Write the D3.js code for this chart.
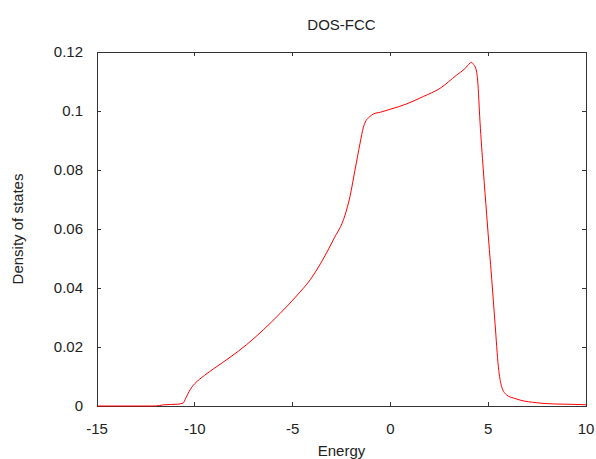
<!DOCTYPE html>
<html>
<head>
<meta charset="utf-8">
<script src="https://cdn.jsdelivr.net/npm/d3@7"></script>
<style>
  body { margin: 0; background: #fff; }
  text { font-family: "Liberation Sans", Arial, sans-serif; fill: #222; }
</style>
</head>
<body>
<div id="chart"></div>
<script>
// energy grid (eV) and density of states
const energy = [-15, -12, -11.6, -10.9, -10.6, -10.45, -10.3, -10.15, -10.0, -9.75, -9.5, -9.0, -8.2, -7.35, -6.5,
  -5.65, -4.8, -4.1, -3.77, -2.92, -2.32, -2.07, -1.81, -1.55, -1.38, -1.25, -1.1, -0.87, -0.5,
  0, 0.83, 1.68, 2.54, 3.39, 3.8, 4.07, 4.15, 4.25, 4.36, 4.46, 4.58, 4.75, 4.92, 5.06, 5.18,
  5.35, 5.52, 5.69, 5.95, 6.3, 6.63, 7.48, 8.33, 9.0, 9.69, 10]
const dos = [0, 0, 0.0004, 0.0006, 0.001, 0.0028, 0.0048, 0.0064, 0.0076, 0.0091, 0.0104, 0.0128, 0.0165, 0.0208, 0.0258,
  0.0313, 0.0373, 0.0428, 0.0461, 0.0563, 0.0647, 0.0709, 0.080, 0.0891, 0.0945, 0.0967, 0.0978, 0.099, 0.0996,
  0.1006, 0.1024, 0.1049, 0.1077, 0.1122, 0.1143, 0.1162, 0.1165, 0.1158, 0.1145, 0.1105, 0.0964, 0.080, 0.065, 0.053, 0.043,
  0.028, 0.0133, 0.0065, 0.0037, 0.0027, 0.002, 0.0011, 0.0007, 0.0006, 0.0005, 0.0004]

const xTicks = [-15, -10, -5, 0, 5, 10]
const yTicks = [0, 0.02, 0.04, 0.06, 0.08, 0.1, 0.12]
const title = 'DOS-FCC'
const xLabel = 'Energy'
const yLabel = 'Density of states'

const W = 596, H = 459
const margin = { top: 52, right: 10, bottom: 53, left: 97 }
const width = W - margin.left - margin.right
const height = H - margin.top - margin.bottom
const fontSize = 15

const svg = d3.select('#chart').append('svg')
  .attr('width', W)
  .attr('height', H)

const chart = svg.append('g')
  .attr('transform', `translate(${margin.left}, ${margin.top})`)

const x = d3.scaleLinear().domain([-15, 10]).range([0, width])
const y = d3.scaleLinear().domain([0, 0.12]).range([height, 0])

const tick = 4
const axisColor = '#333'

// frame
chart.append('rect')
  .attr('width', width).attr('height', height)
  .attr('fill', 'none').attr('stroke', axisColor).attr('stroke-width', 1)
  .attr('shape-rendering', 'crispEdges')

// ticks on all four sides, pointing inward
xTicks.forEach(t => {
  chart.append('line').attr('x1', x(t)).attr('x2', x(t)).attr('y1', height).attr('y2', height - tick)
    .attr('stroke', axisColor).attr('shape-rendering', 'crispEdges')
  chart.append('line').attr('x1', x(t)).attr('x2', x(t)).attr('y1', 0).attr('y2', tick)
    .attr('stroke', axisColor).attr('shape-rendering', 'crispEdges')
  chart.append('text')
    .attr('x', x(t)).attr('y', height + 28)
    .attr('text-anchor', 'middle')
    .attr('font-size', fontSize)
    .text(String(t))
})
yTicks.forEach(t => {
  chart.append('line').attr('x1', 0).attr('x2', tick).attr('y1', y(t)).attr('y2', y(t))
    .attr('stroke', axisColor).attr('shape-rendering', 'crispEdges')
  chart.append('line').attr('x1', width).attr('x2', width - tick).attr('y1', y(t)).attr('y2', y(t))
    .attr('stroke', axisColor).attr('shape-rendering', 'crispEdges')
  chart.append('text')
    .attr('x', -14).attr('y', y(t))
    .attr('dy', '0.35em')
    .attr('text-anchor', 'end')
    .attr('font-size', fontSize)
    .text(String(+t.toFixed(2)))
})

// the DOS curve
const line = d3.line()
  .curve(d3.curveMonotoneX)
  .x((d, i) => x(energy[i]))
  .y(d => y(d))

chart.append('path')
  .datum(dos)
  .attr('fill', 'none')
  .attr('stroke', '#ff0000')
  .attr('stroke-width', 1)
  .attr('d', line)

// title and axis labels
svg.append('text')
  .attr('x', margin.left + width / 2).attr('y', 30)
  .attr('text-anchor', 'middle').attr('font-size', fontSize)
  .text(title)

svg.append('text')
  .attr('x', margin.left + width / 2).attr('y', 456)
  .attr('text-anchor', 'middle').attr('font-size', fontSize)
  .text(xLabel)

svg.append('text')
  .attr('transform', `translate(23, ${margin.top + height / 2}) rotate(-90)`)
  .attr('text-anchor', 'middle').attr('font-size', fontSize)
  .text(yLabel)
</script>
</body>
</html>
